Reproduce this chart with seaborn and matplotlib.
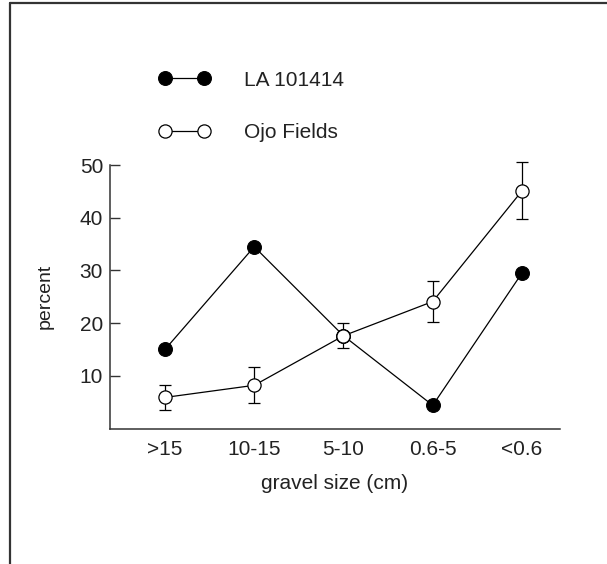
import numpy as np
import pandas as pd
import matplotlib
matplotlib.use("Agg")
import matplotlib.pyplot as plt
from matplotlib.lines import Line2D
import seaborn as sns

# gravel size classes (cm)
sizes = ['>15', '10-15', '5-10', '0.6-5', '<0.6']
la_101414 = [15.0, 34.5, 17.6, 4.4, 29.5]
ojo_fields = [5.9, 8.2, 17.6, 24.1, 45.1]
ojo_err = [2.3, 3.4, 2.4, 3.9, 5.4]

sns.set_theme(style="ticks")
plt.rcParams['font.family'] = ['Liberation Sans', 'DejaVu Sans']
plt.rcParams['text.color'] = '#222222'
plt.rcParams['axes.labelcolor'] = '#222222'

fig = plt.figure(figsize=(6.07, 5.64), dpi=100)
ax = fig.add_axes([0.1812, 0.2402, 0.7414, 0.4672])

pos = np.arange(len(sizes))
df = pd.DataFrame({'pos': pos, 'la': la_101414, 'ojo': ojo_fields})

sns.lineplot(data=df, x='pos', y='la', ax=ax, color='black', lw=0.9,
             marker='o', markersize=10, markerfacecolor='black',
             markeredgecolor='black', label='LA 101414', zorder=2)
ax.errorbar(pos, ojo_fields, yerr=ojo_err, fmt='none', ecolor='black',
            elinewidth=0.9, capsize=4, capthick=0.9, zorder=3, clip_on=False)
sns.lineplot(data=df, x='pos', y='ojo', ax=ax, color='black', lw=0.9,
             marker='o', markersize=9.5, markerfacecolor='white',
             markeredgecolor='black', markeredgewidth=0.9,
             label='Ojo Fields', zorder=4)

ax.set_xlim(-0.616, 4.426)
ax.set_ylim(0, 50)
ax.set_xticks(pos)
ax.set_xticklabels(sizes)
ax.set_yticks([10, 20, 30, 40, 50])
ax.tick_params(axis='y', direction='in', length=7, width=1, pad=5,
               labelsize=15, color='#333333', labelcolor='#222222')
ax.tick_params(axis='x', length=0, pad=8, labelsize=15, labelcolor='#222222')
sns.despine(ax=ax)
for s in ['left', 'bottom']:
    ax.spines[s].set_color('#333333')
    ax.spines[s].set_linewidth(1.1)

ax.set_xlabel('gravel size (cm)', fontsize=15, labelpad=11)
ax.set_ylabel('percent', fontsize=14, labelpad=19)

ax.legend(loc='upper left', bbox_to_anchor=(0.2615, 0.875),
          bbox_transform=fig.transFigure, frameon=False, fontsize=15,
          numpoints=2, handlelength=2.475, handletextpad=1.6,
          labelspacing=1.63, borderpad=0, borderaxespad=0)

# outer frame (top and left edges)
fig.add_artist(Line2D([10 / 607, 1], [1 - 3 / 564, 1 - 3 / 564],
                      transform=fig.transFigure, color='#333333', lw=1.6))
fig.add_artist(Line2D([10 / 607, 10 / 607], [0, 1 - 3 / 564],
                      transform=fig.transFigure, color='#333333', lw=1.6))

fig.savefig('out.png', dpi=100)
